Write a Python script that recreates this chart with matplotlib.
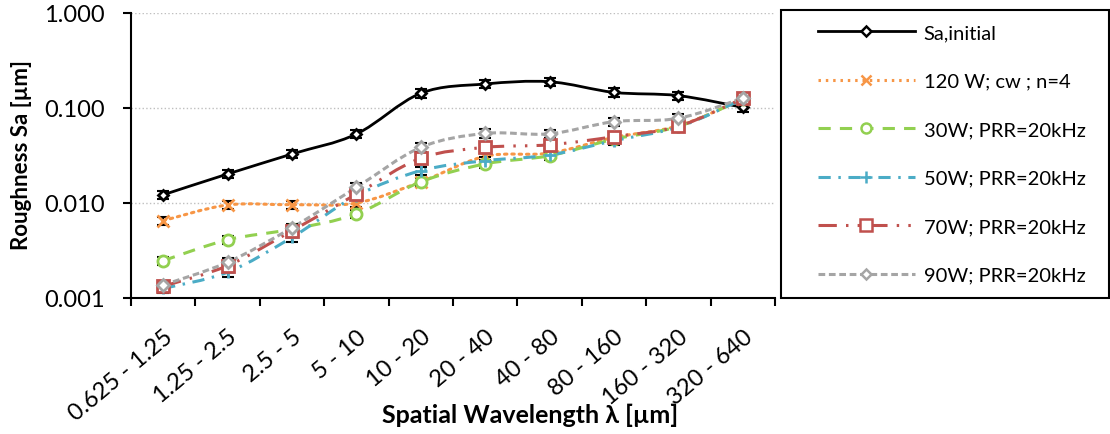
import numpy as np
import matplotlib.pyplot as plt
from matplotlib.path import Path
from matplotlib.patches import PathPatch, Rectangle
from matplotlib.lines import Line2D
from matplotlib.ticker import FixedLocator, NullLocator

plt.rcParams['font.family'] = ['Lato', 'DejaVu Sans']

categories = ['0.625 - 1.25', '1.25 - 2.5', '2.5 - 5', '5 - 10', '10 - 20',
              '20 - 40', '40 - 80', '80 - 160', '160 - 320', '320 - 640']

sa_initial = [0.0122, 0.0202, 0.0328, 0.0532, 0.143, 0.179, 0.189, 0.146, 0.135, 0.1016]
w120_cw = [0.00652, 0.00953, 0.0096, 0.0100, 0.0167, 0.0310, 0.0335, 0.049, 0.065, 0.124]
w30 = [0.00247, 0.0041, 0.0053, 0.00766, 0.0167, 0.0258, 0.0315, 0.047, 0.064, 0.124]
w50 = [0.00126, 0.00187, 0.00435, 0.0119, 0.0219, 0.0279, 0.0320, 0.0453, 0.0631, 0.124]
w70 = [0.00133, 0.00219, 0.0051, 0.0124, 0.0296, 0.0385, 0.0410, 0.0499, 0.0642, 0.126]
w90 = [0.00137, 0.00238, 0.0055, 0.0146, 0.0385, 0.0540, 0.0535, 0.0718, 0.0780, 0.127]

# relative error of each point
rel_err = [0.10, 0.10, 0.10, 0.10, 0.10, 0.10, 0.10, 0.10, 0.10, 0.10]

labels = ['Sa,initial', '120 W; cw ; n=4', '30W; PRR=20kHz',
          '50W; PRR=20kHz', '70W; PRR=20kHz', '90W; PRR=20kHz']

styles = [
    dict(color='black', ls='-', marker='D', ms=5.5, mfc='white', lw=2.0),
    dict(color='#F79646', ls=(0, (0.8, 1.6)), marker='x', ms=8, mfc='none', lw=2.2),
    dict(color='#92D050', ls=(0, (4, 3)), marker='o', ms=8, mfc='white', lw=2.2),
    dict(color='#4BACC6', ls=(0, (4, 2.5, 0.8, 2.5)), marker='+', ms=9, mfc='none', lw=2.2),
    dict(color='#C0504D', ls=(0, (6, 3, 0.8, 3, 0.8, 3)), marker='s', ms=9, mfc='white', lw=2.2),
    dict(color='#A5A5A5', ls=(0, (2.2, 1.2)), marker='D', ms=6, mfc='white', lw=2.2),
]


def smooth_path(x, y):
    # Bezier path through the points (smoothed line like the spreadsheet one)
    ly = np.log10(y)
    pts = np.column_stack([x, ly])
    n = len(pts)
    verts = [pts[0]]
    codes = [Path.MOVETO]
    for i in range(n - 1):
        p0 = pts[max(i - 1, 0)]
        p1 = pts[i]
        p2 = pts[i + 1]
        p3 = pts[min(i + 2, n - 1)]
        c1 = p1 + (p2 - p0) / 6.0
        c2 = p2 - (p3 - p1) / 6.0
        verts += [c1, c2, p2]
        codes += [Path.CURVE4] * 3
    verts = np.array(verts)
    verts[:, 1] = 10 ** verts[:, 1]
    return Path(verts, codes)


fig = plt.figure(figsize=(11.1, 4.35), dpi=100)
ax = fig.add_axes([131 / 1110, 136 / 435, 644 / 1110, 285 / 435])
ax.set_yscale('log')

x = np.arange(len(categories))
series = [sa_initial, w120_cw, w30, w50, w70, w90]
handles = []
for vals, st, lab in zip(series, styles, labels):
    vals = np.array(vals)
    patch = PathPatch(smooth_path(x, vals), facecolor='none', edgecolor=st['color'],
                      lw=st['lw'], linestyle=st['ls'],
                      capstyle='round' if st['color'] == '#F79646' else 'butt')
    ax.add_patch(patch)
    ax.errorbar(x, vals, yerr=vals * np.array(rel_err), fmt='none', ecolor='black',
                elinewidth=1.5, capsize=4, capthick=1.5, zorder=3)
    ax.plot(x, vals, ls='none', marker=st['marker'], ms=st['ms'], mfc=st['mfc'],
            mec=st['color'], mew=2, zorder=4)
    handles.append(Line2D([], [], color=st['color'], ls=st['ls'], lw=st['lw'],
                          marker=st['marker'], ms=st['ms'] * 0.9, mfc=st['mfc'],
                          mec=st['color'], mew=1.8))

ax.set_xlim(-0.5, 9.5)
ax.set_ylim(0.001, 1)

ax.yaxis.set_major_locator(FixedLocator([0.001, 0.01, 0.1, 1]))
ax.yaxis.set_minor_locator(NullLocator())
ax.set_yticklabels(['0.001', '0.010', '0.100', '1.000'])
ax.set_xticks(x)
ax.set_xticklabels(categories, rotation=40, ha='right', rotation_mode='anchor')
ax.set_xticks(np.arange(-0.5, 10, 1), minor=True)
ax.tick_params(axis='x', which='major', length=0, pad=20, labelsize=17)
ax.tick_params(axis='x', which='minor', length=6, width=1.5, direction='out')
ax.tick_params(axis='y', length=6, width=1.5, pad=13, labelsize=17)

ax.grid(axis='y', which='major', color='#BFBFBF', ls=':', lw=1)
ax.set_axisbelow(True)
for s in ['top', 'right']:
    ax.spines[s].set_visible(False)
for s in ['left', 'bottom']:
    ax.spines[s].set_linewidth(1.5)

fig.text(22 / 1110, 1 - 155 / 435, 'Roughness Sa [µm]', rotation=90, ha='center',
         va='center', fontsize=16, fontweight='bold')
fig.text(530 / 1110, 1 - 415 / 435, 'Spatial Wavelength λ [µm]', ha='center',
         va='center', fontsize=18, fontweight='bold')

# legend box
fig.patches.append(Rectangle((781 / 1110, 1 - 299 / 435), 328 / 1110, 288 / 435,
                             transform=fig.transFigure, fill=False, ec='black', lw=1.5))
fig.legend(handles, labels, loc='upper left', bbox_to_anchor=(818 / 1110, 1 - 25 / 435),
           frameon=False, fontsize=14.5, handlelength=4.8, handletextpad=0.45,
           labelspacing=1.56, borderpad=0, borderaxespad=0)

fig.savefig('out.png', dpi=100)
